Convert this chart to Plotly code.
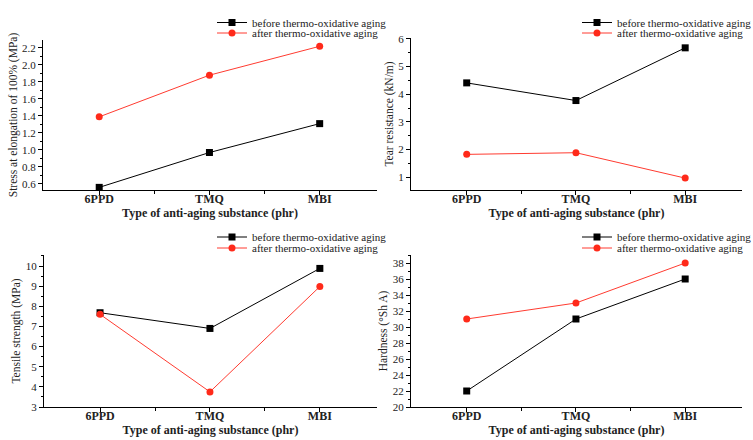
import plotly.graph_objects as go

categories = ["6PPD", "TMQ", "MBI"]
xpos = list(range(len(categories)))

stress_before = [0.56, 0.97, 1.31]
stress_after = [1.39, 1.88, 2.22]
tear_before = [4.41, 3.77, 5.68]
tear_after = [1.82, 1.88, 0.96]
tensile_before = [7.68, 6.90, 9.88]
tensile_after = [7.60, 3.75, 8.98]
hard_before = [22, 31, 36]
hard_after = [31, 33, 38]

series_names = ["before thermo-oxidative aging", "after thermo-oxidative aging"]
xtitle = "Type of anti-aging substance (phr)"

W, H = 753, 440
FONT = "Liberation Serif"

panels = [
    dict(before=stress_before, after=stress_after, ytitle="Stress at elongation of 100% (MPa)",
         xd=(43, 377), yd=(40, 190), yr=(0.529, 2.294), dtick=0.2, minor=0.1, fmt=".1f",
         leg=(212, 22.5, 33)),
    dict(before=tear_before, after=tear_after, ytitle="Tear resistance (kN/m)",
         xd=(411, 742), yd=(38, 190), yr=(0.529, 6.036), dtick=1, minor=0.5, fmt="d",
         leg=(577, 22.5, 33)),
    dict(before=tensile_before, after=tensile_after, ytitle="Tensile strength (MPa)",
         xd=(44, 377), yd=(255, 407), yr=(3, 10.546), dtick=1, minor=0.5, fmt="d",
         leg=(212, 237, 248)),
    dict(before=hard_before, after=hard_after, ytitle="Hardness (°Sh A)",
         xd=(411, 742), yd=(255, 407), yr=(20, 39), dtick=2, minor=1, fmt="d",
         leg=(577, 237, 248)),
]

fig = go.Figure()
layout = dict(
    width=W, height=H, margin=dict(l=0, r=0, t=0, b=0, autoexpand=False),
    paper_bgcolor="white", plot_bgcolor="white",
    font=dict(family=FONT, color="#222", size=11),
    showlegend=True,
)

leg_count = 0
for i, p in enumerate(panels):
    n = "" if i == 0 else str(i + 1)
    lx, ly1, ly2 = p["leg"]
    names = []
    for k, ly in enumerate((ly1, ly2)):
        leg_count += 1
        lname = "legend" if leg_count == 1 else "legend" + str(leg_count)
        names.append(lname)
        layout[lname] = dict(
            x=lx / W, y=1 - ly / H, xanchor="left", yanchor="middle",
            bgcolor="rgba(0,0,0,0)", borderwidth=0,
            font=dict(family=FONT, size=11, color="#222"),
            itemwidth=30,
        )
    fig.add_trace(go.Scatter(
        x=xpos, y=p["before"], mode="lines+markers", name=series_names[0],
        line=dict(color="black", width=1),
        marker=dict(symbol="square", size=7, color="black"),
        xaxis="x" + n, yaxis="y" + n, legend=names[0]))
    fig.add_trace(go.Scatter(
        x=xpos, y=p["after"], mode="lines+markers", name=series_names[1],
        line=dict(color="#ff3b30", width=1),
        marker=dict(symbol="circle", size=7, color="#ff2a1a"),
        xaxis="x" + n, yaxis="y" + n, legend=names[1]))

    x0, x1 = p["xd"]
    y0, y1 = p["yd"]
    layout["xaxis" + n] = dict(
        domain=[x0 / W, x1 / W], anchor="y" + n,
        range=[-0.51, 2.52], tickmode="array", tickvals=xpos, ticktext=categories,
        showgrid=False, zeroline=False, showline=True, linecolor="black", linewidth=1,
        ticks="outside", ticklen=4, tickcolor="black", ticklabelstandoff=-6,
        tickfont=dict(family=FONT, size=12, color="#222", weight="bold"),
        minor=dict(tickmode="array", tickvals=[0.5, 1.5], ticks="outside", ticklen=3,
                   tickcolor="black"),
        title=dict(text=xtitle, font=dict(family=FONT, size=12, color="#222", weight="bold"),
                   standoff=2),
    )
    layout["yaxis" + n] = dict(
        domain=[1 - y1 / H, 1 - y0 / H], anchor="x" + n,
        range=list(p["yr"]), dtick=p["dtick"], tick0=0, tickformat=p["fmt"],
        showgrid=False, zeroline=False, showline=True, linecolor="black", linewidth=1,
        ticks="outside", ticklen=4, tickcolor="black",
        tickfont=dict(family=FONT, size=11, color="#222"),
        minor=dict(dtick=p["minor"], ticks="outside", ticklen=2, tickcolor="black"),
        title=dict(text=p["ytitle"], font=dict(family=FONT, size=11.5, color="#222"),
                   standoff=2),
    )

fig.update_layout(**layout)
fig.write_html("out.html", config={"displayModeBar": False},
               post_script="document.body.style.margin='0px';")
